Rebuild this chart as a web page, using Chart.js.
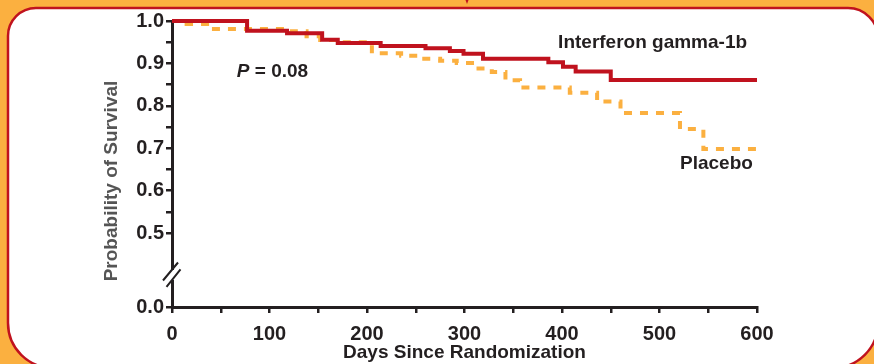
<!DOCTYPE html>
<html>
<head>
<meta charset="utf-8">
<script src="https://cdn.jsdelivr.net/npm/chart.js@4.4.0/dist/chart.umd.min.js"></script>
<style>
  html, body { margin: 0; padding: 0; background: #fbb040; }
  canvas { display: block; }
</style>
</head>
<body>
<canvas id="survivalChart" width="874" height="364"></canvas>
<script>
// Kaplan-Meier steps (days, probability of survival)
const ifnDays = [0, 77, 118, 154, 170, 214, 260, 285, 299, 319, 386, 401, 414, 450, 600];
const ifnSurvival = [1.0, 0.977, 0.971, 0.956, 0.948, 0.941, 0.936, 0.929, 0.923, 0.911, 0.903, 0.892, 0.881, 0.861, 0.861];

const placeboDays = [0, 15, 36, 121, 138, 152, 172, 205, 235, 255, 275, 292, 310, 328, 342, 357, 408, 436, 460, 521, 545, 600];
const placeboSurvival = [1.0, 0.993, 0.981, 0.976, 0.964, 0.955, 0.950, 0.924, 0.918, 0.911, 0.906, 0.901, 0.888, 0.880, 0.860, 0.843, 0.831, 0.810, 0.783, 0.745, 0.698, 0.698];

// axis: broken between 0.0 and 0.5, so "0.0" sits just below the 0.5 tick
const yAxisBottom = 0.3255;
const yBreak = 0.401;
const yTickValues = [yAxisBottom, 0.5, 0.55, 0.6, 0.65, 0.7, 0.75, 0.8, 0.85, 0.9, 0.95, 1.0];
const xTickStep = 50;

const font = "'Liberation Sans', Arial, sans-serif";
const red = '#c0121e';
const orange = '#fbb040';
const ink = '#231f20';

const toPoints = (xs, ys) => xs.map((x, i) => ({ x: x, y: ys[i] }));

const decorPlugin = {
    id: 'decor',
    beforeDraw(chart) {
        const ctx = chart.ctx;
        ctx.save();
        ctx.fillStyle = orange;
        ctx.fillRect(0, 0, chart.width, chart.height);
        // little red mark poking in from above
        ctx.fillStyle = red;
        ctx.beginPath();
        ctx.moveTo(465.5, 0); ctx.lineTo(468.5, 0); ctx.lineTo(467, 4);
        ctx.fill();
        // white panel
        ctx.beginPath();
        ctx.roundRect(8, 8, 870, 360, [28, 30, 45, 45]);
        ctx.fillStyle = '#ffffff';
        ctx.fill();
        ctx.lineWidth = 2.5;
        ctx.strokeStyle = red;
        ctx.stroke();
        ctx.restore();
    },
    afterDraw(chart) {
        const ctx = chart.ctx;
        const xs = chart.scales.x, ys = chart.scales.y;
        ctx.save();

        // axis break
        const ax = chart.chartArea.left;
        const by = ys.getPixelForValue(yBreak);
        ctx.fillStyle = '#ffffff';
        ctx.fillRect(ax - 3, by - 5, 6, 10);
        ctx.strokeStyle = ink;
        ctx.lineWidth = 2;
        ctx.beginPath();
        ctx.moveTo(ax - 9, by + 5.5); ctx.lineTo(ax + 6, by - 12.5);
        ctx.moveTo(ax - 5.5, by + 12); ctx.lineTo(ax + 8.5, by - 5.5);
        ctx.stroke();

        // y axis title
        ctx.save();
        ctx.translate(112, 181);
        ctx.rotate(-Math.PI / 2);
        ctx.fillStyle = '#555555';
        ctx.font = 'bold 19px ' + font;
        ctx.textAlign = 'center';
        ctx.textBaseline = 'middle';
        ctx.fillText('Probability of Survival', 0, 0);
        ctx.restore();

        // series labels
        ctx.fillStyle = ink;
        ctx.font = 'bold 19px ' + font;
        ctx.textBaseline = 'middle';
        ctx.textAlign = 'left';
        ctx.fillText('Interferon gamma-1b', xs.getPixelForValue(396), ys.getPixelForValue(0.948));
        ctx.fillText('Placebo', xs.getPixelForValue(521), ys.getPixelForValue(0.663));

        // P value
        const px = xs.getPixelForValue(66.5), py = ys.getPixelForValue(0.88);
        ctx.font = 'italic bold 19px ' + font;
        ctx.fillText('P', px, py);
        const pw = ctx.measureText('P').width;
        ctx.font = 'bold 19px ' + font;
        ctx.fillText(' = 0.08', px + pw, py);

        ctx.restore();
    }
};

new Chart(document.getElementById('survivalChart'), {
    type: 'line',
    data: {
        datasets: [
            {
                label: 'Interferon gamma-1b',
                data: toPoints(ifnDays, ifnSurvival),
                borderColor: red,
                borderWidth: 4,
                stepped: true,
                pointRadius: 0,
                clip: 8,
                order: 0
            },
            {
                label: 'Placebo',
                data: toPoints(placeboDays, placeboSurvival),
                borderColor: orange,
                borderWidth: 4,
                borderDash: [8, 8],
                stepped: true,
                pointRadius: 0,
                clip: 8,
                order: 1
            }
        ]
    },
    options: {
        responsive: false,
        animation: false,
        layout: { padding: { top: 21, right: 117, left: 0, bottom: 0 } },
        plugins: {
            legend: { display: false },
            tooltip: { enabled: false }
        },
        scales: {
            x: {
                type: 'linear',
                min: 0,
                max: 600,
                afterFit(scale) { scale.height = 57; },
                border: { display: true, color: ink, width: 3 },
                grid: { drawOnChartArea: false, drawTicks: true, tickLength: 6, color: ink, lineWidth: 2.5 },
                ticks: {
                    stepSize: xTickStep,
                    autoSkip: false,
                    maxRotation: 0,
                    padding: 9,
                    color: ink,
                    font: { family: font, size: 20, weight: 'bold' },
                    callback: v => (v % 100 === 0 ? String(v) : '')
                },
                title: {
                    display: true,
                    text: 'Days Since Randomization',
                    color: ink,
                    font: { family: font, size: 19, weight: 'bold' },
                    padding: { top: 0, bottom: 0 }
                }
            },
            y: {
                type: 'linear',
                min: yAxisBottom,
                max: 1.0,
                afterFit(scale) { scale.width = 172; },
                afterBuildTicks(scale) { scale.ticks = yTickValues.map(v => ({ value: v })); },
                border: { display: true, color: ink, width: 3 },
                grid: { drawOnChartArea: false, drawTicks: true, tickLength: 6, color: ink, lineWidth: 2.5 },
                ticks: {
                    autoSkip: false,
                    padding: 2,
                    color: ink,
                    font: { family: font, size: 20, weight: 'bold' },
                    callback: function(v) {
                        if (Math.abs(v - yAxisBottom) < 1e-6) return '0.0';
                        const r = Math.round(v * 100);
                        return r % 10 === 0 ? (r / 100).toFixed(1) : '';
                    }
                }
            }
        }
    },
    plugins: [decorPlugin]
});
</script>
</body>
</html>
